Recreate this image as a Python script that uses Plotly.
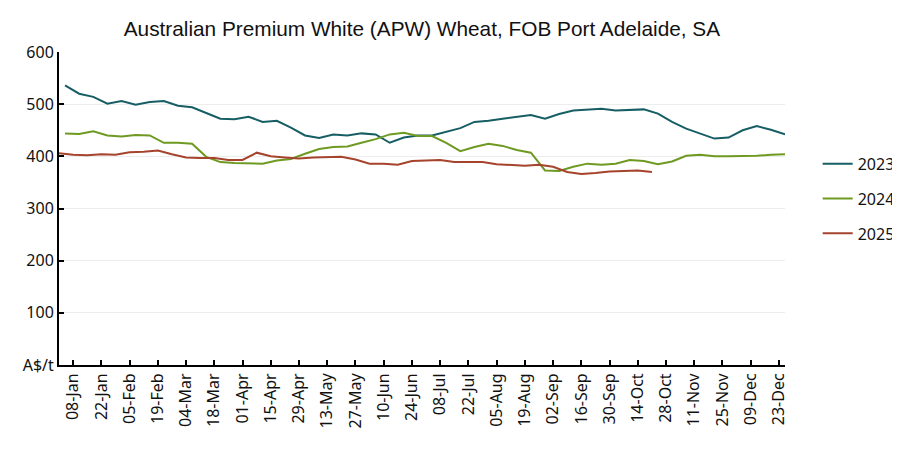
import pandas as pd
import plotly.graph_objects as go

# weekly FOB price, A$/t, plotted on a common day-of-year axis (2024 calendar)
START_2023_2024 = "2024-01-04"
START_2025 = "2024-01-01"

apw_2023 = [536, 520, 514, 501, 506, 499, 504, 506, 497, 494, 483, 472, 471,
            476, 466, 468, 455, 440, 435, 442, 440, 444, 442, 426, 436, 440,
            440, 447, 454, 466, 468, 472, 475, 479, 472, 481, 488, 490, 491,
            488, 489, 490, 482, 466, 453, 444, 434, 436, 450, 458, 451, 442]

apw_2024 = [444, 443, 448, 440, 438, 441, 440, 426, 426, 424, 399, 389, 387,
            386, 386, 392, 395, 405, 414, 418, 419, 426, 433, 442, 445, 439,
            439, 426, 410, 418, 424, 420, 412, 407, 373, 372, 380, 386, 384,
            386, 393, 391, 385, 390, 401, 403, 400, 400, 400, 401, 403, 404]

apw_2025 = [406, 403, 402, 404, 403, 408, 409, 411, 404, 398, 397, 397, 393,
            393, 407, 400, 398, 396, 398, 398, 399, 394, 386, 386, 384, 391,
            392, 393, 389, 389, 389, 385, 383, 382, 384, 380, 370, 366, 368,
            371, 372, 373, 370]

y_ticks = [0, 100, 200, 300, 400, 500, 600]
y_labels = ["A$/t", "100", "200", "300", "400", "500", "600"]

COLORS = {"2023": "#175E64", "2024": "#6E9A22", "2025": "#A6432C"}
TICK_FONT = "Noto Sans"

dates_a = pd.date_range(START_2023_2024, periods=len(apw_2023), freq="7D")
dates_b = pd.date_range(START_2025, periods=len(apw_2025), freq="7D")

series = [
    ("2023", dates_a, apw_2023),
    ("2024", dates_a, apw_2024),
    ("2025", dates_b, apw_2025),
]

fig = go.Figure()
for name, x, y in series:
    fig.add_trace(go.Scatter(
        x=x, y=y, mode="lines", name=name, legendgroup=name,
        line=dict(color=COLORS[name], width=2),
    ))

tick_dates = pd.date_range("2024-01-08", "2024-12-23", freq="14D")

# the page body keeps its default 8px margin, so the figure is 8px smaller
fig.update_layout(
    width=892, height=442,
    paper_bgcolor="white", plot_bgcolor="white",
    font=dict(family=TICK_FONT, color="#111111", size=16),
    title=dict(
        text="Australian Premium White (APW) Wheat, FOB Port Adelaide, SA",
        x=0.464, xanchor="center", y=0.952, yanchor="middle",
        font=dict(size=20.8, family="Liberation Sans", color="#111111"),
    ),
    margin=dict(l=51, r=115, t=44, b=84.5, autoexpand=False),
    legend=dict(
        x=1.045, xanchor="left", y=0.531, yanchor="middle",
        font=dict(size=16, family=TICK_FONT), tracegroupgap=11,
        bgcolor="rgba(0,0,0,0)",
    ),
    xaxis=dict(
        type="date",
        range=[dates_b[0], dates_a[-1]],
        tickvals=list(tick_dates),
        ticktext=[d.strftime("%d-%b") for d in tick_dates],
        tickangle=-90,
        ticks="inside", ticklen=5, tickcolor="black", tickwidth=1.5,
        showline=True, linecolor="black", linewidth=2,
        showgrid=False, zeroline=False,
        tickfont=dict(size=16),
    ),
    yaxis=dict(
        range=[0, 600],
        tickvals=y_ticks, ticktext=y_labels,
        ticks="inside", ticklen=5, tickcolor="black", tickwidth=1.5,
        showline=True, linecolor="black", linewidth=2,
        showgrid=True, gridcolor="#EDEDED", gridwidth=1,
        zeroline=False,
        tickfont=dict(size=16),
    ),
)

fig.write_html("out.html")
